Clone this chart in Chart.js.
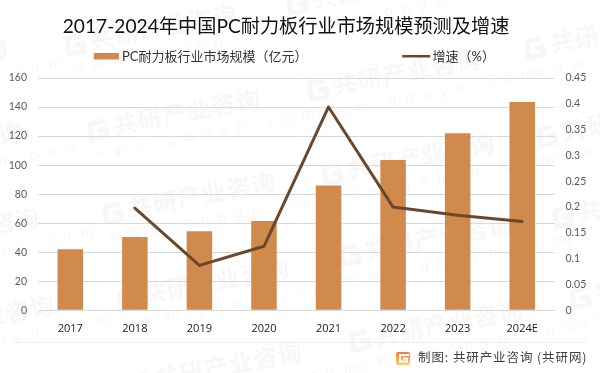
<!DOCTYPE html>
<html><head><meta charset="utf-8">
<style>html,body{margin:0;padding:0;background:#fff}#w{width:600px;height:373px;position:relative}</style>
<script src="https://cdn.jsdelivr.net/npm/chart.js@4"></script>
</head><body><div id="w"><canvas id="c" width="600" height="373"></canvas></div>
<script>
const categories = ['2017','2018','2019','2020','2021','2022','2023','2024E'];
const marketSize = [42, 50.5, 54.5, 61.5, 86, 103.5, 122, 143.5];
const growthRate = [null, 0.198, 0.087, 0.124, 0.394, 0.2, 0.184, 0.172];
const rightTicks = ['0','0.05','0.1','0.15','0.2','0.25','0.3','0.35','0.4','0.45'];
const titleText = '2017-2024年中国PC耐力板行业市场规模预测及增速';
const barName = 'PC耐力板行业市场规模（亿元）';
const lineName = '增速（%）';
const sourceText = '制图: 共研产业咨询 (共研网)';
const wmName = '共研产业咨询';
const wmSite = 'w w w . g o n y n . c o m';
const wmAnchors = [[-165,80],[-150,165],[-133,250],[-118,338],[65,47],[88,132],[103,215],[117,301],[130,385],[287,6],[308,92],[322,176],[340,257],[350,343],[525,50],[537,138],[553,219],[570,300]];

const BAR = '#d08a4c', LINE = '#69482d';
const CJK = '"Lato","Noto Sans CJK SC",sans-serif';

function swatch(w,h,x,y,sw,sh,color){
  const c=document.createElement('canvas');c.width=w;c.height=h;
  const g=c.getContext('2d');g.fillStyle=color;g.fillRect(x,y,sw,sh);return c;
}
const barSwatch = swatch(28,8,3,0,25,7,BAR);
const lineSwatch = swatch(32,4,3,0,28,3,LINE);

function gMark(ctx,x,y,s,color){
  ctx.save();ctx.translate(x,y);ctx.scale(s,s);
  ctx.strokeStyle=color;ctx.lineWidth=5;ctx.lineJoin='round';
  ctx.beginPath();ctx.moveTo(18,-8);ctx.lineTo(4,-8);ctx.lineTo(2,8);ctx.lineTo(18,8);ctx.lineTo(18,0);ctx.lineTo(10,0);ctx.stroke();
  ctx.restore();
}
const deco = {
  id:'deco',
  beforeLayout(chart){
    const lg=chart.legend;
    if(lg && !lg._p){lg._p=1;const f=lg.fit;lg.fit=function(){f.call(this);this.height=0;};}
  },
  afterLayout(chart){
    chart.legend.left=-3;
    chart.legend.top=58-97-8;
    chart.titleBlock.left=-14;chart.titleBlock.right=586;
  },
  beforeDraw(chart){
    const ctx=chart.ctx;
    ctx.save();ctx.fillStyle='#fff';ctx.fillRect(0,0,600,373);
    for(const [x,y] of wmAnchors){
      ctx.save();ctx.translate(x,y);ctx.rotate(-10.5*Math.PI/180);
      gMark(ctx,0,0,1,'#f7f7f7');
      ctx.fillStyle='#f7f7f7';ctx.textBaseline='middle';ctx.textAlign='left';
      ctx.font='bold 24px "Noto Sans CJK SC"';ctx.letterSpacing='1px';
      ctx.fillText(wmName,26,-2);
      ctx.font='15px "Liberation Sans"';ctx.letterSpacing='2.6px';
      ctx.fillText(wmSite,3,24);
      ctx.restore();
    }
    ctx.strokeStyle='#ececec';ctx.lineWidth=1;ctx.beginPath();ctx.moveTo(13,342.5);ctx.lineTo(586,342.5);ctx.stroke();
    ctx.restore();
  },
  afterDraw(chart){
    const ctx=chart.ctx;
    ctx.save();
    const gr=ctx.createLinearGradient(0,352,0,365);gr.addColorStop(0,'#f47a3a');gr.addColorStop(1,'#fbcf7a');
    ctx.fillStyle=gr;ctx.beginPath();ctx.roundRect(396,352,14,13,2);ctx.fill();
    ctx.strokeStyle='#fff';ctx.lineWidth=2;ctx.beginPath();ctx.moveTo(409,355);ctx.lineTo(400,355);ctx.lineTo(400,361.5);ctx.lineTo(407,361.5);ctx.lineTo(407,358.5);ctx.lineTo(403,358.5);ctx.stroke();
    ctx.fillStyle='#404040';ctx.font='12.5px "Noto Sans CJK SC"';ctx.textBaseline='middle';ctx.textAlign='left';
    ctx.letterSpacing='0.9px';
    ctx.fillText(sourceText,418,357);
    ctx.restore();
  }
};

new Chart(document.getElementById('c'),{
  data:{labels:categories,datasets:[
    {type:'line',label:lineName,data:growthRate,yAxisID:'y2',borderColor:LINE,backgroundColor:LINE,borderWidth:3,pointRadius:0,tension:0,borderCapStyle:'round',borderJoinStyle:'round',pointStyle:lineSwatch,order:1},
    {type:'bar',label:barName,data:marketSize,yAxisID:'y',backgroundColor:BAR,categoryPercentage:1,barPercentage:0.395,pointStyle:barSwatch,order:2}
  ]},
  options:{
    responsive:false,animation:false,
    layout:{padding:{top:0,bottom:25.5,left:0,right:0}},
    plugins:{
      title:{display:true,text:titleText,color:'#111',font:{family:CJK,size:19.2,weight:'normal'},padding:{top:15,bottom:40}},
      legend:{display:true,position:'top',align:'start',reverse:true,
        labels:{usePointStyle:true,pointStyleWidth:21.5,padding:97,color:'#333',font:{family:CJK,size:13}}},
      tooltip:{enabled:false}
    },
    scales:{
      x:{grid:{display:false,drawTicks:false},border:{color:'#d9d9d9'},ticks:{color:'#1a1a1a',padding:12,font:{family:'"Open Sans"',size:11},maxRotation:0,autoSkip:false}},
      y:{position:'left',min:0,max:160,afterFit(s){s.width=38;},
        grid:{color:'#d9d9d9',drawTicks:false},border:{display:false},
        ticks:{stepSize:20,padding:11,color:'#595959',font:{family:'Lato',size:10.5}}},
      y2:{position:'right',min:0,max:0.45,afterFit(s){s.width=45.5;},
        grid:{display:false,drawTicks:false},border:{display:false},
        ticks:{stepSize:0.05,padding:11,color:'#595959',font:{family:'Lato',size:10.5},callback:(v,i)=>rightTicks[i]}}
    }
  },
  plugins:[deco]
});
</script></body></html>
